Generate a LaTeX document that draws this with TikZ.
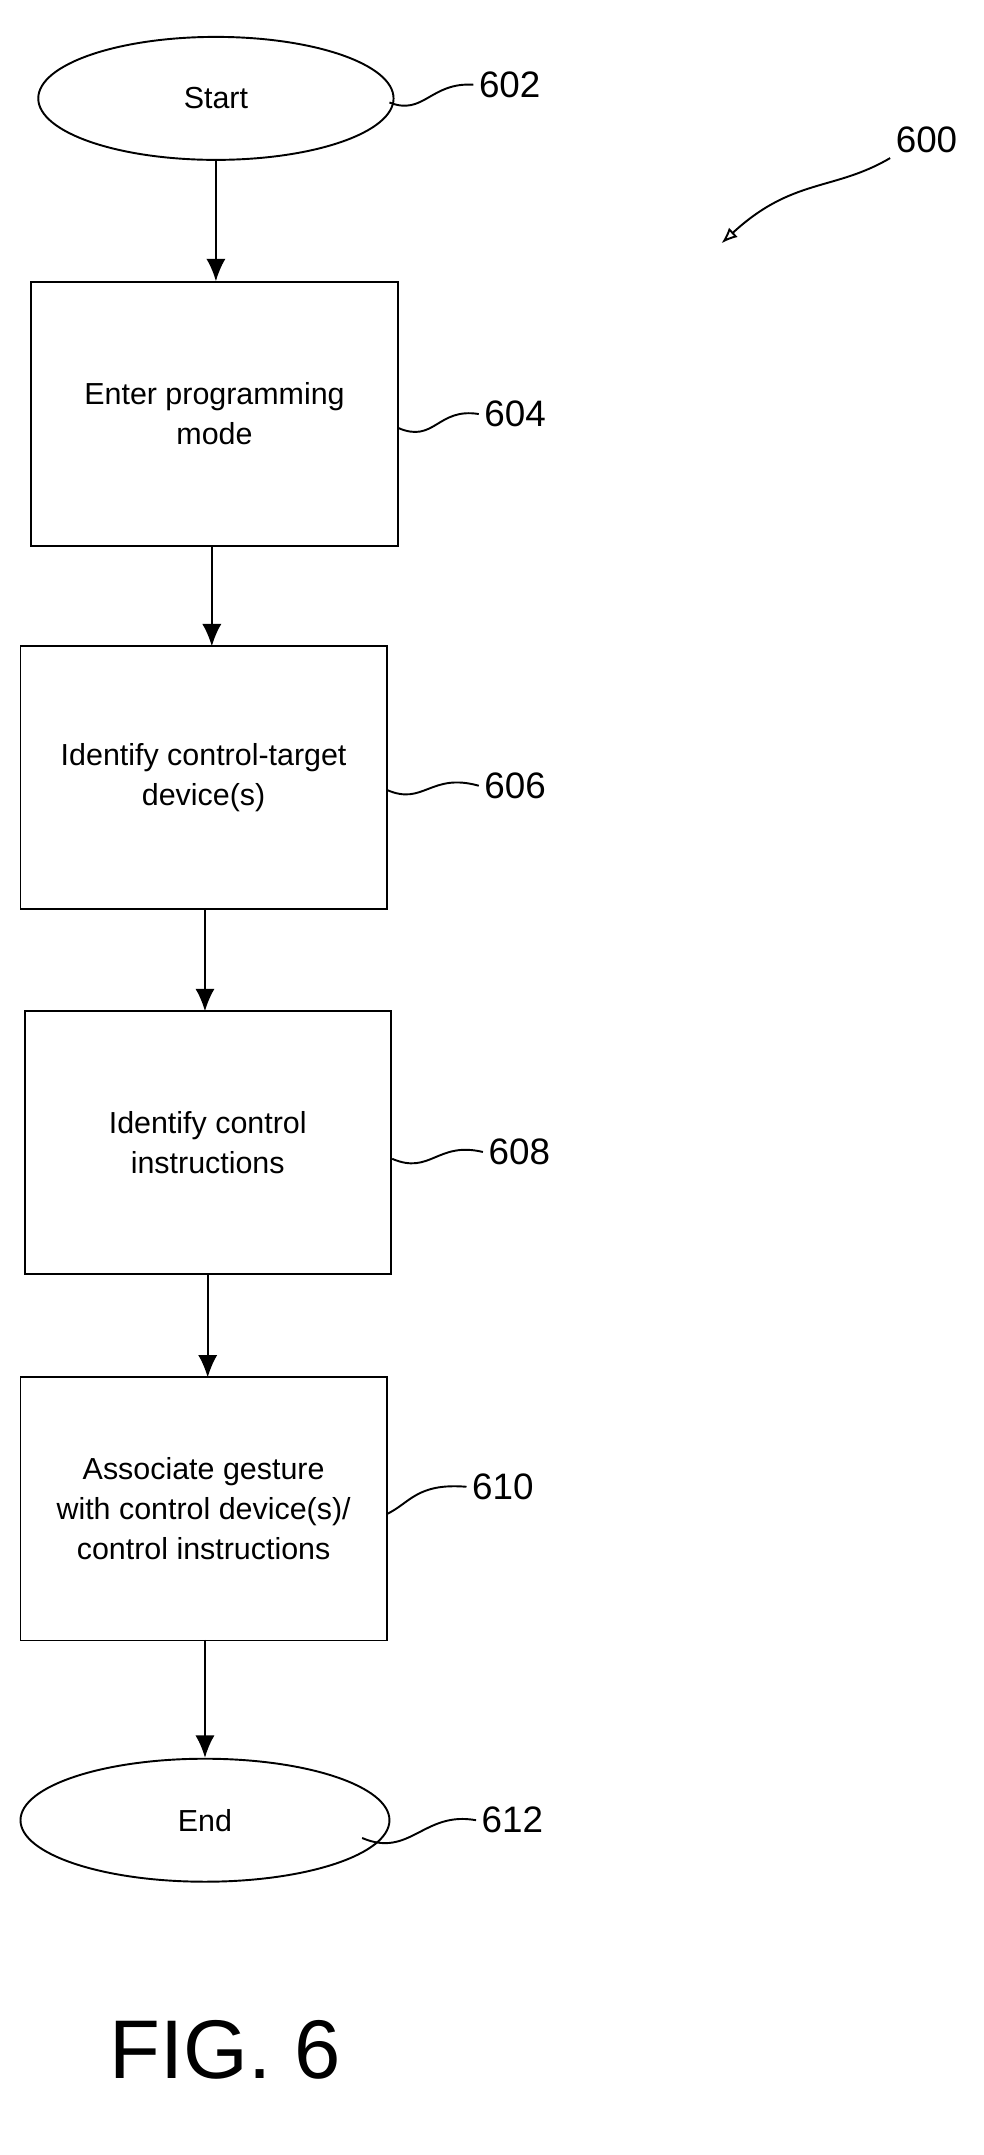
\documentclass[tikz,border=0pt]{standalone}
\usepackage{fontspec}
\setmainfont{Liberation Sans}
\usetikzlibrary{shapes.geometric,arrows.meta}
\tikzset{
  procbox/.style={draw,line width=1.2pt,minimum width=268*0.03cm,minimum height=193*0.03cm,align=center,font=\fontsize{19}{25}\selectfont},
  term/.style={draw,ellipse,line width=1.2pt,minimum width=260*0.03cm,minimum height=90*0.03cm,font=\fontsize{19}{25}\selectfont},
  ref/.style={font=\fontsize{23}{27}\selectfont},
  flow/.style={-{Latex[length=14pt,width=12pt]},line width=1.2pt},
  lead/.style={line width=1.2pt}
}
\begin{document}
\begin{tikzpicture}[x=0.03cm,y=-0.03cm]
\useasboundingbox (0,0) rectangle (720,1577);

\node[term] (start) at (158,72) {Start};
\node[procbox] (s604) at (157,303) {Enter programming\\mode};
\node[procbox] (s606) at (149,569) {Identify control-target\\device(s)};
\node[procbox] (s608) at (152,836) {Identify control\\instructions};
\node[procbox] (s610) at (149,1104) {Associate gesture\\with control device(s)/\\control instructions};
\node[term,minimum width=270*0.03cm] (end) at (150,1332) {End};

\draw[flow] (start) -- (start|-s604.north);
\draw[flow] (155,400) -- (155,473);
\draw[flow] (150,665) -- (150,740);
\draw[flow] (152,933) -- (152,1008);
\draw[flow] (150,1200) -- (end);

% reference numerals
\node[ref] (r602) at (373,62) {602};
\node[ref] (r604) at (377,303) {604};
\node[ref] (r606) at (377,575) {606};
\node[ref] (r608) at (380,843) {608};
\node[ref] (r610) at (368,1088) {610};
\node[ref] (r612) at (375,1332) {612};
\node[ref] (r600) at (678,102) {600};

\draw[lead] (285,75) .. controls (310,85) and (315,60) .. (r602.west);
\draw[lead] (291,313) .. controls (318,325) and (320,298) .. (r604.west);
\draw[lead] (283,578) .. controls (310,590) and (315,565) .. (r606.west);
\draw[lead] (287,848) .. controls (315,860) and (320,835) .. (r608.west);
\draw[lead] (283,1108) .. controls (300,1100) and (305,1085) .. (r610.west);
\draw[lead] (265,1345) .. controls (300,1360) and (310,1325) .. (r612.west);
\draw[lead,-{Latex[length=10pt,width=8pt,open]}] (r600.south west) .. controls (610,140) and (580,130) .. (528,178);

\node[font=\fontsize{52}{60}\selectfont] (fig) at (165,1500) {FIG. 6};
\end{tikzpicture}
\end{document}
